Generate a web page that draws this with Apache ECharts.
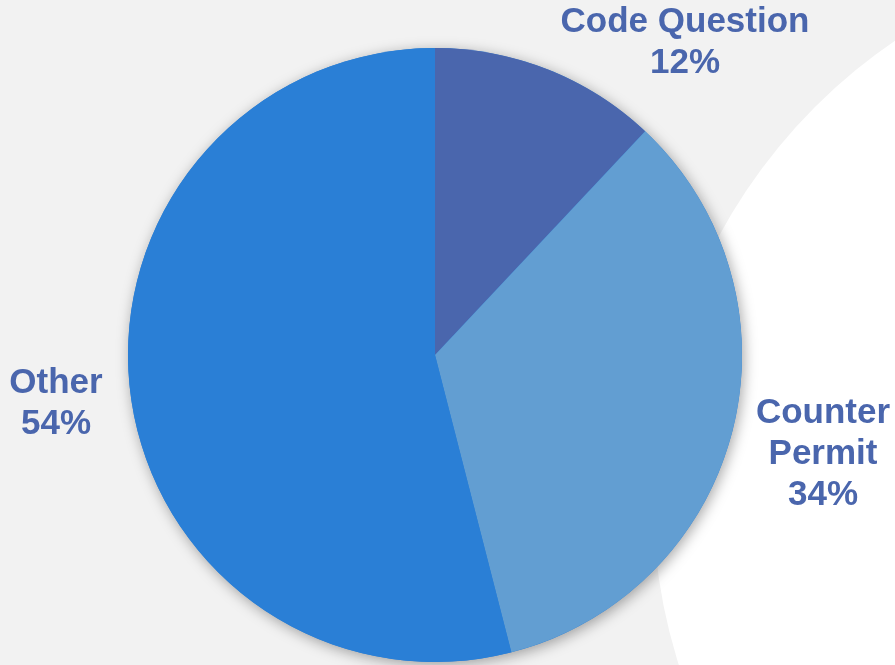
<!DOCTYPE html>
<html>
<head>
<meta charset="utf-8">
<script src="https://cdn.jsdelivr.net/npm/echarts@6/dist/echarts.min.js"></script>
<style>
  html, body { margin: 0; padding: 0; background: #f2f2f2; }
  #chart { width: 895px; height: 665px; }
</style>
</head>
<body>
<div id="chart"></div>
<script>
// Share of requests by type
const categories = ['Code Question', 'Counter Permit', 'Other'];
const shares = [12, 34, 54];
const sliceColors = ['#4a66ad', '#629ed2', '#2a7fd6'];
// Label text per slice (Counter Permit is wrapped onto two lines)
const labelNames = ['Code Question', 'Counter\nPermit', 'Other'];

const chart = echarts.init(document.getElementById('chart'), null, { renderer: 'canvas' });

const pieCenter = [435, 355];
const pieRadius = 307;

// Where each slice's label block sits (centre of the text block)
const labelAnchors = [
  { x: 685, y: 43 },
  { x: 823, y: 454 },
  { x: 56, y: 404 }
];

const option = {
  backgroundColor: '#f2f2f2',
  animation: false,
  graphic: [
    {
      type: 'circle',
      z: -10,
      silent: true,
      shape: { cx: 1206, cy: 498, r: 553 },
      style: { fill: '#ffffff' }
    }
  ],
  series: [
    {
      // soft drop shadow under the whole pie
      type: 'pie',
      silent: true,
      z: 1,
      center: pieCenter,
      radius: pieRadius,
      label: { show: false },
      labelLine: { show: false },
      itemStyle: {
        color: '#2a7fd6',
        shadowBlur: 14,
        shadowColor: 'rgba(0,0,0,0.35)',
        shadowOffsetX: 2,
        shadowOffsetY: 3
      },
      data: [{ value: 1 }]
    },
    {
      type: 'pie',
      z: 2,
      center: pieCenter,
      radius: pieRadius,
      startAngle: 90,
      clockwise: true,
      silent: true,
      itemStyle: { borderWidth: 0 },
      labelLine: { show: false },
      label: {
        show: true,
        position: 'outside',
        overflow: 'none',
        color: '#4a66ad',
        fontFamily: '"Liberation Sans", Arial, sans-serif',
        fontWeight: 'bold',
        fontSize: 35,
        lineHeight: 41,
        align: 'center',
        formatter: function (p) {
          return labelNames[p.dataIndex] + '\n' + p.value + '%';
        }
      },
      labelLayout: function (params) {
        const a = labelAnchors[params.dataIndex];
        return { x: a.x, y: a.y, align: 'center', verticalAlign: 'middle', hideOverlap: false };
      },
      data: categories.map(function (name, i) {
        return { name: name, value: shares[i], itemStyle: { color: sliceColors[i] } };
      })
    }
  ]
};

chart.setOption(option);
</script>
</body>
</html>
